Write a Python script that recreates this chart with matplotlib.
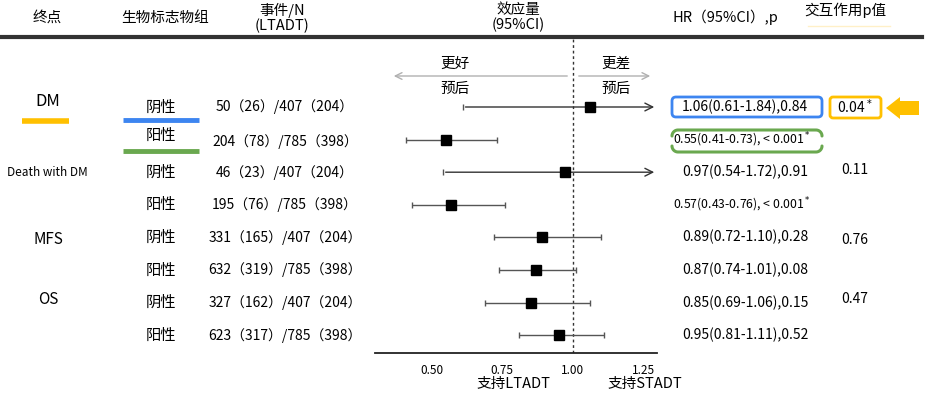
import matplotlib
matplotlib.use("Agg")
import matplotlib.pyplot as plt
import numpy as np
from matplotlib.patches import FancyBboxPatch, Polygon

plt.rcParams['font.family'] = ['Noto Sans CJK SC', 'DejaVu Sans']

# 数据
endpoints = ['DM', 'Death with DM', 'MFS', 'OS']
groups = ['阴性', '阳性', '阴性', '阳性', '阴性', '阳性', '阴性', '阳性']
events = ['50（26）/407（204）', '204（78）/785（398）',
          '46（23）/407（204）', '195（76）/785（398）',
          '331（165）/407（204）', '632（319）/785（398）',
          '327（162）/407（204）', '623（317）/785（398）']
hr = [1.06, 0.55, 0.97, 0.57, 0.89, 0.87, 0.85, 0.95]
lo = [0.61, 0.41, 0.54, 0.43, 0.72, 0.74, 0.69, 0.81]
hi = [1.84, 0.73, 1.72, 0.76, 1.10, 1.01, 1.06, 1.11]
pvals = ['0.84', '< 0.001', '0.91', '< 0.001', '0.28', '0.08', '0.15', '0.52']
inter_p = ['0.04', '0.11', '0.76', '0.47']
xticks = [0.50, 0.75, 1.00, 1.25]

BLUE = '#3d85f0'
GREEN = '#6aa84f'
ORANGE = '#ffc000'

fig = plt.figure(figsize=(9.27, 3.96), dpi=100)
bg = fig.add_axes([0, 0, 1, 1])
bg.set_xlim(0, 927)
bg.set_ylim(396, 0)
bg.axis('off')

row_y = [107 + 32.6 * i for i in range(8)]

# 表头
fs = 10.5
bg.text(47, 18, '终点', ha='center', va='center', fontsize=fs)
bg.text(165, 18, '生物标志物组', ha='center', va='center', fontsize=fs)
bg.text(282, 18, '事件/N\n(LTADT)', ha='center', va='center', fontsize=fs, linespacing=1.05)
bg.text(518, 18, '效应量\n(95%CI)', ha='center', va='center', fontsize=fs, linespacing=1.05)
bg.text(725, 17, 'HR（95%CI）,p', ha='center', va='center', fontsize=fs)
bg.text(845, 10, '交互作用p值', ha='center', va='center', fontsize=fs)
bg.plot([808, 890], [26, 26], color='#fff0c8', lw=1)
bg.plot([0, 922], [36.5, 36.5], color='#333333', lw=3)

# 终点
bg.text(48, 102, 'DM', ha='center', va='center', fontsize=12)
bg.plot([22, 69], [121, 121], color=ORANGE, lw=4, solid_capstyle='butt')
bg.text(47, 173, 'Death with DM', ha='center', va='center', fontsize=8.5)
bg.text(48, 240, 'MFS', ha='center', va='center', fontsize=11)
bg.text(48, 300, 'OS', ha='center', va='center', fontsize=11)

# 分组, 事件
for i in range(8):
    y = row_y[i]
    gy = y
    if i == 1:
        gy = y - 4
    bg.text(161, gy, groups[i], ha='center', va='center', fontsize=11)
    bg.text(285, y + (2 if i == 1 else 0), events[i], ha='center', va='center', fontsize=10)
bg.plot([123, 199], [120, 120], color=BLUE, lw=3.5, solid_capstyle='butt')
bg.plot([123, 199], [151, 151], color=GREEN, lw=3.5, solid_capstyle='butt')

# HR 文本
for i in range(8):
    y = row_y[i]
    if pvals[i].startswith('<'):
        s = '%.2f(%.2f-%.2f), %s$^*$' % (hr[i], lo[i], hi[i], pvals[i])
        bg.text(742, y, s, ha='center', va='center', fontsize=8.8)
    else:
        s = '%.2f(%.2f-%.2f),%s' % (hr[i], lo[i], hi[i], pvals[i])
        bg.text(745, y, s, ha='center', va='center', fontsize=10)

bg.add_patch(FancyBboxPatch((672, 97), 150, 20, boxstyle='round,pad=0,rounding_size=4',
                            fc='none', ec=BLUE, lw=2))

# 绿色上下括线
r = 6
t = np.linspace(0, np.pi / 2, 12)
top_x = np.concatenate([672 + r - r * np.cos(t), 822 - r + r * np.sin(t)])
top_y = np.concatenate([130 + r - r * np.sin(t), 130 + r - r * np.cos(t)])
bg.plot(top_x, top_y, color=GREEN, lw=2.2, solid_capstyle='round')
bot_y = 282 - top_y
bg.plot(top_x, bot_y, color=GREEN, lw=2.2, solid_capstyle='round')

# 交互 p
bg.text(855, 107, inter_p[0] + '$^*$', ha='center', va='center', fontsize=10)
bg.add_patch(FancyBboxPatch((830, 97), 51, 21, boxstyle='round,pad=0,rounding_size=3',
                            fc='none', ec=ORANGE, lw=2))
bg.add_patch(Polygon([(886, 108), (900, 97), (900, 101), (919, 101),
                      (919, 115), (900, 115), (900, 119)], closed=True,
                     fc=ORANGE, ec='none'))
bg.text(855, 170, inter_p[1], ha='center', va='center', fontsize=10)
bg.text(855, 240, inter_p[2], ha='center', va='center', fontsize=10)
bg.text(855, 299, inter_p[3], ha='center', va='center', fontsize=10)

# 更好/更差
bg.text(455, 64, '更好', ha='center', va='center', fontsize=10.5)
bg.text(455, 89, '预后', ha='center', va='center', fontsize=10.5)
bg.text(616, 64, '更差', ha='center', va='center', fontsize=10.5)
bg.text(616, 89, '预后', ha='center', va='center', fontsize=10.5)
bg.annotate('', xy=(391, 76), xytext=(570, 76),
            arrowprops=dict(arrowstyle='->', color='#b0b0b0', lw=1, mutation_scale=12))
bg.annotate('', xy=(653, 76), xytext=(576, 76),
            arrowprops=dict(arrowstyle='->', color='#b0b0b0', lw=1, mutation_scale=12))

bg.text(513, 384, '支持LTADT', ha='center', va='center', fontsize=10.5)
bg.text(645, 384, '支持STADT', ha='center', va='center', fontsize=10.5)

# 森林图
x0, x1, ytop, ybot = 375, 657, 38, 353
ax = fig.add_axes([x0 / 927, 1 - ybot / 396, (x1 - x0) / 927, (ybot - ytop) / 396])
ax.patch.set_alpha(0)
xmin, xmax = 0.300, 1.297
ax.set_xlim(xmin, xmax)
ax.set_ylim((ybot - 107) / 32.6, (ytop - 107) / 32.6)
for s in ['top', 'left', 'right']:
    ax.spines[s].set_visible(False)
ax.spines['bottom'].set_color('#222222')
ax.spines['bottom'].set_linewidth(1.3)
ax.set_yticks([])
ax.set_xticks(xticks)
ax.set_xticklabels(['%.2f' % t for t in xticks], fontsize=8.5)
ax.tick_params(axis='x', length=0, pad=8)
ax.axvline(1.0, color='#333333', lw=1, ls=(0, (2, 2)))

for i in range(8):
    if hi[i] > xmax:
        ax.plot([lo[i]], [i], marker='|', color='#555555', ms=5, mew=1)
        ax.annotate('', xy=(xmax, i), xytext=(lo[i], i),
                    arrowprops=dict(arrowstyle='->', color='#333333', lw=1, mutation_scale=14))
    else:
        ax.errorbar(hr[i], i, xerr=[[hr[i] - lo[i]], [hi[i] - hr[i]]], fmt='none',
                    ecolor='#555555', elinewidth=1, capsize=2.5)
    ax.plot(hr[i], i, marker='s', color='black', ms=7.5, zorder=5)

fig.savefig('out.png', dpi=100)
